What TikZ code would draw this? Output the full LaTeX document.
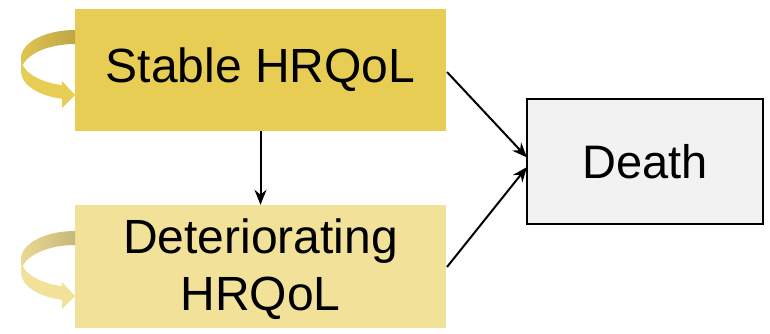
\documentclass[tikz,border=0pt]{standalone}
\usepackage{fontspec}
\setmainfont{Liberation Sans}
\usetikzlibrary{arrows.meta}
\definecolor{stablefill}{HTML}{E8CD55}
\definecolor{stabledark}{HTML}{BFA545}
\definecolor{detfill}{HTML}{F2E199}
\definecolor{detdark}{HTML}{C8B879}
\definecolor{deathfill}{HTML}{F2F2F2}
\begin{document}
\begin{tikzpicture}[x=1pt,y=1pt,
  state/.style={rectangle, draw=none, minimum width=371pt, minimum height=122pt, inner sep=0pt,
    font=\fontsize{48}{57}\selectfont, align=center},
  deathbox/.style={rectangle, draw=black, line width=2pt, fill=deathfill, minimum width=236pt,
    minimum height=125pt, inner sep=0pt, font=\fontsize{47}{55}\selectfont},
  conn/.style={line width=2pt, -{Stealth[length=15pt,width=12pt]}}]
\useasboundingbox (0,0) rectangle (770,333);
\fill[white] (0,0) rectangle (770,333);

\node[state, fill=stablefill] (stable) at (260.5,263) {Stable HRQoL};
\node[state, fill=detfill, minimum height=123pt] (det) at (260.5,66.5) {};
\node[font=\fontsize{48}{57}\selectfont, align=center] (dettext) at (260.5,63.5) {Deteriorating\\HRQoL};
\node[deathbox] (death) at (645,171.5) {Death};

\coordinate (s1) at (447,261);
\coordinate (d1) at (447,66);
\coordinate (t1) at (527,175.5);
\coordinate (t2) at (527,166);
\draw[conn] (s1) -- (t1);
\draw[conn] (d1) -- (t2);
\draw[conn] (stable.south) -- (det.north);

% self loops
\foreach \dy/\dk/\lt in {0/stabledark/stablefill, -201/detdark/detfill}{
  \begin{scope}[yshift=\dy pt]
    \shade[left color=\lt!80!\dk, right color=\dk]
      (75,303) arc[start angle=90, end angle=180, x radius=54, y radius=28]
      -- (21,261) arc[start angle=180, end angle=90, x radius=54, y radius=28] -- cycle;
    \fill[\lt]
      (21,275) arc[start angle=180, end angle=256, x radius=54, y radius=28]
      -- (62,252) -- (75,238) -- (62,225) -- (62,234.2)
      arc[start angle=256, end angle=180, x radius=54, y radius=28] -- cycle;
  \end{scope}
}
\end{tikzpicture}
\end{document}
